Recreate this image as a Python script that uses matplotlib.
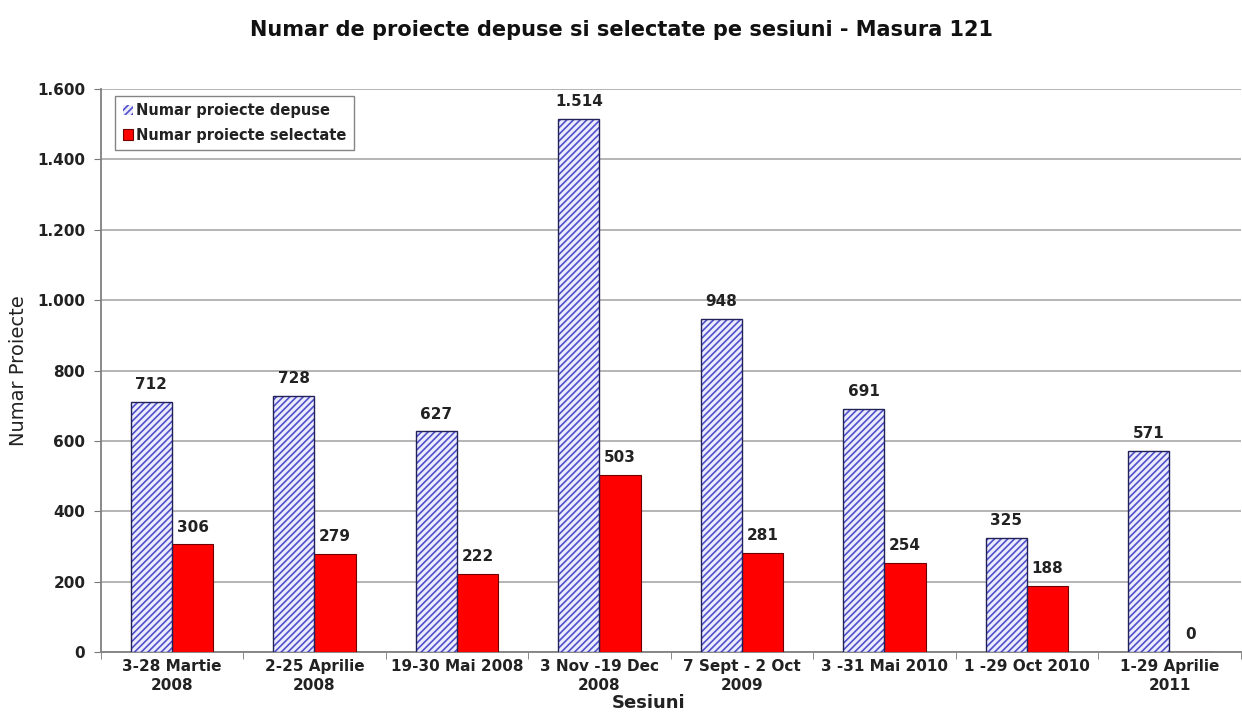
import numpy as np
import matplotlib.pyplot as plt
from matplotlib.patches import Patch

plt.rcParams['font.family'] = ['DejaVu Sans']
plt.rcParams['hatch.linewidth'] = 1.2

sesiuni = ['3-28 Martie\n2008', '2-25 Aprilie\n2008', '19-30 Mai 2008', '3 Nov -19 Dec\n2008',
           '7 Sept - 2 Oct\n2009', '3 -31 Mai 2010', '1 -29 Oct 2010', '1-29 Aprilie\n2011']
depuse = [712, 728, 627, 1514, 948, 691, 325, 571]
selectate = [306, 279, 222, 503, 281, 254, 188, 0]

def fmt(v):
    return f'{v:,}'.replace(',', '.')

fig = plt.figure(figsize=(12.42, 7.12), dpi=100)
ax = fig.add_axes([0.081, 0.084, 0.918, 0.791])

x = np.arange(len(sesiuni))
w = 0.29
# hatched fill (blue stripes) plus a dark outline on top
ax.bar(x - w / 2, depuse, w, color='#ececfd', edgecolor='#5050cc', hatch='/////',
       linewidth=0, zorder=3)
b1 = ax.bar(x - w / 2, depuse, w, fill=False, edgecolor='#22225a', linewidth=1.0, zorder=4)
b2 = ax.bar(x + w / 2, selectate, w, color='#ff0000', edgecolor='#700000',
            linewidth=0.8, zorder=3)

for bars, vals in ((b1, depuse), (b2, selectate)):
    for r, v in zip(bars, vals):
        ax.text(r.get_x() + r.get_width() / 2, v + 28, fmt(v), ha='center', va='bottom',
                fontsize=11, fontweight='bold', color='#222222')

ax.set_xlim(-0.5, len(sesiuni) - 0.5)
ax.set_ylim(0, 1600)
ax.set_yticks(np.arange(0, 1601, 200))
ax.set_yticklabels([fmt(v) for v in range(0, 1601, 200)], fontsize=11, fontweight='bold', color='#222222')
ax.set_xticks(x)
ax.set_xticklabels(sesiuni, fontsize=11, fontweight='bold', color='#222222', linespacing=1.3)
ax.tick_params(axis='x', length=0, pad=5)
ax.set_xticks(np.arange(-0.5, len(sesiuni)), minor=True)
ax.tick_params(axis='x', which='minor', length=5, color='#777777', direction='out')
ax.tick_params(axis='y', length=5, color='#777777', direction='out', pad=6)

ax.yaxis.grid(True, color='#a8a8a8', linewidth=1.2, zorder=0)
ax.set_axisbelow(True)
for s in ('top', 'right'):
    ax.spines[s].set_visible(False)
for s in ('left', 'bottom'):
    ax.spines[s].set_color('#808080')
    ax.spines[s].set_linewidth(1.3)

ax.set_ylabel('Numar Proiecte', fontsize=14, color='#222222')
ax.yaxis.set_label_coords(-0.064, 0.5)
ax.set_xlabel('Sesiuni', fontsize=13, fontweight='bold', color='#222222', va='center')
ax.xaxis.set_label_coords(0.481, -0.09)

fig.suptitle('Numar de proiecte depuse si selectate pe sesiuni - Masura 121', y=0.972,
             fontsize=15, fontweight='bold', color='#111111')

handles = [Patch(facecolor='#ececfd', edgecolor='#5050cc', hatch='/////', linewidth=0),
           Patch(facecolor='#ff0000', edgecolor='#700000', linewidth=0.8)]
leg = ax.legend(handles, ['Numar proiecte depuse', 'Numar proiecte selectate'],
                loc='upper left', bbox_to_anchor=(0.013, 0.988), fontsize=10.5, frameon=True,
                fancybox=False, edgecolor='#666666', handlelength=0.7, handleheight=0.7,
                handletextpad=0.2, borderpad=0.5, labelspacing=0.65, borderaxespad=0)
leg.get_frame().set_linewidth(1.0)
for t in leg.get_texts():
    t.set_fontweight('bold')
    t.set_color('#222222')

fig.savefig('out.png', dpi=100)
